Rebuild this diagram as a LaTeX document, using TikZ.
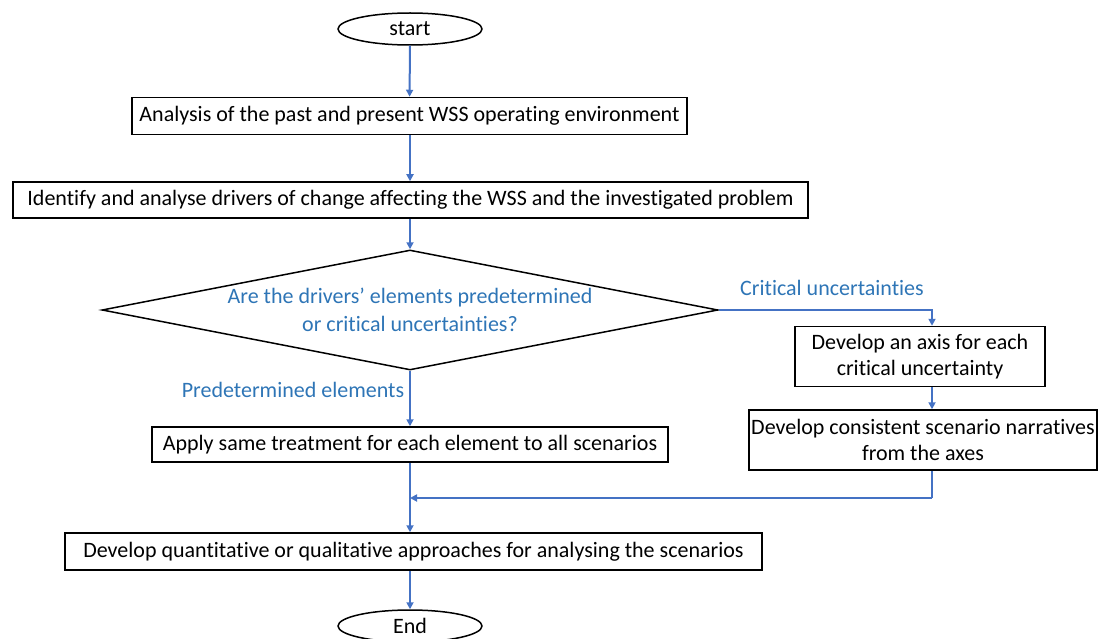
\documentclass[tikz,border=0pt]{standalone}
\usepackage{fontspec}
\setmainfont{Carlito}[Ligatures=CommonOff]
\usetikzlibrary{shapes.geometric,arrows.meta,calc}
\definecolor{flowblue}{HTML}{4472C4}
\definecolor{labelblue}{HTML}{2E75B6}
\begin{document}
\begin{tikzpicture}[x=1pt,y=-1pt,
  every node/.style={font=\fontsize{22}{26}\selectfont, inner sep=0pt},
  stepbox/.style={draw=black, line width=1.5pt, rectangle, align=center},
  terminal/.style={draw=black, line width=1.5pt, ellipse, minimum width=144pt, minimum height=32pt},
  decision/.style={draw=black, line width=1.5pt, diamond, minimum width=616pt, minimum height=120pt, aspect=5.1, align=center, text=labelblue},
  flow/.style={draw=flowblue, line width=2pt, -{Triangle[length=7pt,width=7pt]}},
  flowline/.style={draw=flowblue, line width=2pt},
  branch/.style={text=labelblue}]
\useasboundingbox (0,0) rectangle (1099,639);

% main column
\node[terminal] (start) at (410,29) {start};
\node[stepbox, minimum width=555pt, minimum height=37pt] (past) at (409.5,116) {Analysis of the past and present WSS operating environment};
\node[stepbox, minimum width=795pt, minimum height=36pt] (drivers) at (410.5,200) {Identify and analyse drivers of change affecting the WSS and the investigated problem};
\node[decision] (dec) at (410,310) {Are the drivers’ elements predetermined\\[2pt]or critical uncertainties?};
\node[stepbox, minimum width=516pt, minimum height=35pt] (apply) at (410,444.5) {Apply same treatment for each element to all scenarios};
\node[stepbox, minimum width=697pt, minimum height=37pt] (quant) at (413.5,551.5) {Develop quantitative or qualitative approaches for analysing the scenarios};
\node[terminal] (end) at (410,626) {End};

% side branch
\node[stepbox, minimum width=250pt, minimum height=60pt] (axis) at (920,356.5) {Develop an axis for each\\critical uncertainty};
\node[stepbox, minimum width=348pt, minimum height=60pt] (narr) at (923,440) {Develop consistent scenario narratives\\from the axes};

% branch labels
\node[branch] (lblcrit) at (832,288) {Critical uncertainties};
\node[branch] (lblpre) at (293,390) {Predetermined elements};

% routing points
\coordinate (axin) at (932,0);
\coordinate (bend) at (932,498);
\coordinate (join) at (410,498);

% connectors
\draw[flow] (start) -- (past);
\draw[flow] (past.south -| start.south) -- (drivers.north -| start.south);
\draw[flow] (drivers.south -| dec.north) -- (dec.north);
\draw[flow] (dec.east) -| (axin |- axis.north);
\draw[flow] (axin |- axis.south) -- (axin |- narr.north);
\draw[flow] (dec.south) -- (apply.north -| dec.south);
\draw[flowline] (apply.south -| join) -- (join);
\draw[flowline] (axin |- narr.south) -- (bend);
\draw[flow] (bend) -- (join);
\draw[flow] (join) -- (join |- quant.north);
\draw[flow] (quant.south -| end.north) -- (end.north);
\end{tikzpicture}
\end{document}
